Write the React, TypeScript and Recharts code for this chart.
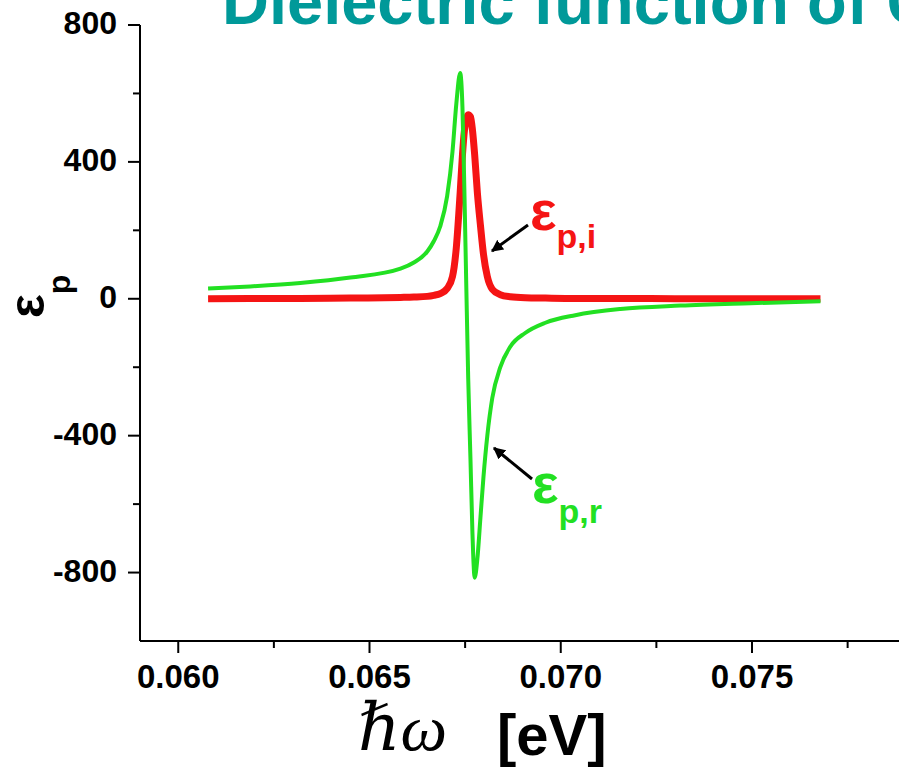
import React from "react";
import { LineChart, Line, XAxis, YAxis } from "recharts";

// photon energy [eV], denser around the resonance
const energy = [
  0.06078, 0.06188, 0.06319, 0.0645, 0.06581, 0.06616, 0.06651, 0.06668,
  0.06685, 0.06703, 0.06717, 0.06727, 0.06737, 0.06743, 0.06748, 0.06753,
  0.06758, 0.06764, 0.06769, 0.06775, 0.06782, 0.0679, 0.06798, 0.06808,
  0.06821, 0.06842, 0.06868, 0.06907, 0.0696, 0.07038, 0.07156, 0.07313,
  0.07496, 0.07679,
];

// eps_p,r (green)
const epsReal = [
  30, 36, 46, 62, 88, 106, 138, 168, 212, 300, 430, 570, 660, 560, 320, 40,
  -230, -470, -680, -815, -760, -640, -520, -400, -290, -200, -140, -100, -70,
  -48, -30, -20, -13, -7,
];

// eps_p,i (red)
const epsImag = [
  0, 1, 1, 2, 4, 5, 7, 10, 15, 30, 65, 150, 310, 420, 490, 525, 538, 532, 495,
  420, 310, 215, 130, 65, 28, 12, 6, 3, 2, 1, 1, 0, 0, 0,
];

const xTicks = [0.06, 0.0625, 0.065, 0.0675, 0.07, 0.0725, 0.075, 0.0775];
const yTicks = [-800, -600, -400, -200, 0, 200, 400, 600, 800];

const data = energy.map((e, i) => ({ e, re: epsReal[i], im: epsImag[i] }));

const FONT = "'Liberation Sans', Arial, sans-serif";
const GREEN = "#22e022";
const RED = "#f51414";

function XTick(props: any) {
  const { x, y, payload } = props;
  const v = payload.value;
  const major = Math.abs(v * 200 - Math.round(v * 200)) < 1e-6;
  return (
    <g>
      <line x1={x} x2={x} y1={y} y2={y + (major ? 12 : 7)} stroke="#000" strokeWidth={2} />
      {major && (
        <text x={x} y={y + 47} textAnchor="middle" fontFamily={FONT} fontWeight="bold" fontSize={33} fill="#000">
          {v.toFixed(3)}
        </text>
      )}
    </g>
  );
}

function YTick(props: any) {
  const { x, y, payload } = props;
  const v = payload.value;
  const major = v % 400 === 0;
  return (
    <g>
      <line x1={x - (major ? 12 : 7)} x2={x} y1={y} y2={y} stroke="#000" strokeWidth={2} />
      {major && (
        <text x={x - 23} y={y + 9} textAnchor="end" fontFamily={FONT} fontWeight="bold" fontSize={32} fill="#000">
          {v}
        </text>
      )}
    </g>
  );
}

export default function App() {
  return (
    <div style={{ position: "absolute", left: 0, top: 0, width: 899, height: 769, overflow: "hidden", background: "#fff" }}>
      <LineChart width={910} height={769} data={data} margin={{ top: 25, right: 5, left: 0, bottom: 68 }}>
        <XAxis
          dataKey="e"
          type="number"
          domain={[0.059, 0.079]}
          ticks={xTicks}
          interval={0}
          tickSize={0}
          tickMargin={0}
          tick={<XTick />}
          height={60}
          allowDataOverflow
          axisLine={{ stroke: "#000", strokeWidth: 2 }}
        />
        <YAxis
          type="number"
          domain={[-1000, 800]}
          ticks={yTicks}
          interval={0}
          tickSize={0}
          tickMargin={0}
          tick={<YTick />}
          width={140}
          allowDataOverflow
          axisLine={{ stroke: "#000", strokeWidth: 2 }}
        />
        <Line type="monotone" dataKey="im" stroke={RED} strokeWidth={7} dot={false} isAnimationActive={false} />
        <Line type="monotone" dataKey="re" stroke={GREEN} strokeWidth={4} dot={false} isAnimationActive={false} />
      </LineChart>
      <svg width={899} height={769} style={{ position: "absolute", left: 0, top: 0, pointerEvents: "none" }}>
        <defs>
          <marker id="ah" viewBox="0 0 10 10" refX="9" refY="5" markerWidth="4" markerHeight="4" orient="auto">
            <path d="M0,0 L10,5 L0,10 z" fill="#000" />
          </marker>
        </defs>
        <text x={222} y={24} fontFamily={FONT} fontWeight="bold" fontSize={65} fill="#009999">
          Dielectric function of GaAs
        </text>
        <text transform="translate(44,318) rotate(-90)" fontFamily={FONT} fontWeight="bold" fill="#000">
          <tspan fontSize={50}>ε</tspan>
          <tspan fontSize={32} dy={26}>p</tspan>
        </text>
        <text x={358} y={750} fontFamily="'Liberation Serif', 'DejaVu Serif', serif" fontStyle="italic" fontSize={66} fill="#000">
          ℏω
        </text>
        <text x={497} y={755} fontFamily={FONT} fontWeight="bold" fontSize={58} fill="#000">
          [eV]
        </text>
        <line x1={528} y1={225} x2={492} y2={251} stroke="#000" strokeWidth={3} markerEnd="url(#ah)" />
        <text x={530} y={230} fontFamily={FONT} fontWeight="bold" fill={RED}>
          <tspan fontSize={56}>ε</tspan>
          <tspan fontSize={34} dy={18}>p,i</tspan>
        </text>
        <line x1={532} y1={479} x2={494} y2={448} stroke="#000" strokeWidth={3} markerEnd="url(#ah)" />
        <text x={532} y={503} fontFamily={FONT} fontWeight="bold" fill={GREEN}>
          <tspan fontSize={56}>ε</tspan>
          <tspan fontSize={34} dy={20}>p,r</tspan>
        </text>
      </svg>
    </div>
  );
}
